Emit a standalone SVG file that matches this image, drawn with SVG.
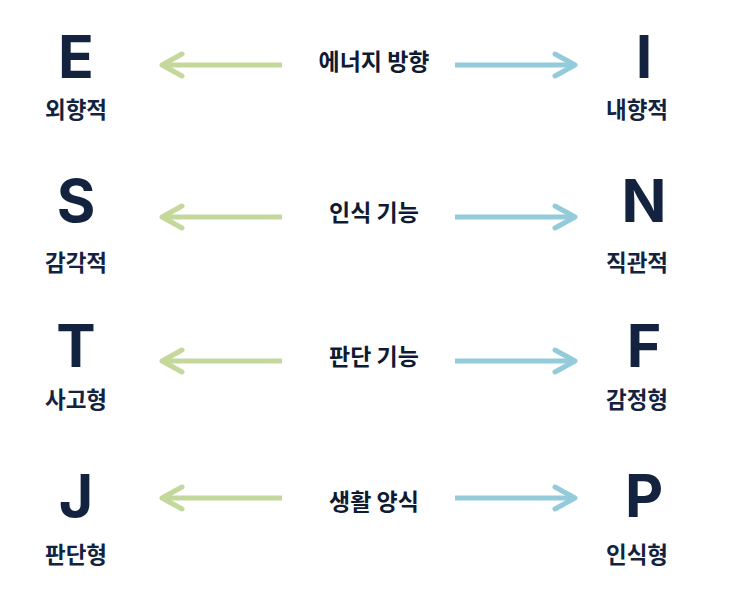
<svg xmlns="http://www.w3.org/2000/svg" width="750" height="592" viewBox="0 0 750 592">
<style>
.letter{font-family:Inter,"Liberation Sans","Noto Sans",sans-serif;font-weight:700;font-size:59px;fill:#13233f;text-anchor:middle}
.lbl{font-family:"Noto Sans CJK KR","Noto Sans",sans-serif;font-weight:700;font-size:22.5px;fill:#13233f;text-anchor:middle}
.mid{font-family:"Noto Sans CJK KR","Noto Sans",sans-serif;font-weight:700;font-size:23px;fill:#0f1a33;text-anchor:middle}
.g{fill:none;stroke:#c4d89b;stroke-width:5;stroke-linecap:round;stroke-linejoin:round}
.b{fill:none;stroke:#93cbdb;stroke-width:5;stroke-linecap:round;stroke-linejoin:round}
.shaft{stroke-linecap:butt}
</style>
<rect width="750" height="592" fill="#ffffff"/>
<g id="connectors">
  <path class="g shaft" d="M282,65 H163"/><path class="g" d="M182,54 L162,65 L182,76"/>
  <path class="b shaft" d="M455,65 H574"/><path class="b" d="M555,54 L575,65 L555,76"/>
  <path class="g shaft" d="M282,217 H163"/><path class="g" d="M182,206 L162,217 L182,228"/>
  <path class="b shaft" d="M455,217 H574"/><path class="b" d="M555,206 L575,217 L555,228"/>
  <path class="g shaft" d="M282,361 H163"/><path class="g" d="M182,350 L162,361 L182,372"/>
  <path class="b shaft" d="M455,361 H574"/><path class="b" d="M555,350 L575,361 L555,372"/>
  <path class="g shaft" d="M282,498 H163"/><path class="g" d="M182,487 L162,498 L182,509"/>
  <path class="b shaft" d="M455,498 H574"/><path class="b" d="M555,487 L575,498 L555,509"/>
</g>
<g id="node-E"><text class="letter" x="76" y="78">E</text><text class="lbl" x="76" y="118">외향적</text></g>
<g id="node-I"><text class="letter" x="644" y="78">I</text><text class="lbl" x="637" y="118">내향적</text></g>
<g id="axis-energy"><text class="mid" x="374" y="70">에너지 방향</text></g>
<g id="node-S"><text class="letter" x="76" y="222">S</text><text class="lbl" x="76" y="271">감각적</text></g>
<g id="node-N"><text class="letter" x="644" y="222">N</text><text class="lbl" x="637" y="271">직관적</text></g>
<g id="axis-perception"><text class="mid" x="374" y="221">인식 기능</text></g>
<g id="node-T"><text class="letter" x="76" y="367">T</text><text class="lbl" x="76" y="408">사고형</text></g>
<g id="node-F"><text class="letter" x="644" y="367">F</text><text class="lbl" x="637" y="408">감정형</text></g>
<g id="axis-judgement"><text class="mid" x="374" y="365">판단 기능</text></g>
<g id="node-J"><text class="letter" x="76" y="517">J</text><text class="lbl" x="76" y="563">판단형</text></g>
<g id="node-P"><text class="letter" x="644" y="517">P</text><text class="lbl" x="637" y="563">인식형</text></g>
<g id="axis-lifestyle"><text class="mid" x="374" y="510">생활 양식</text></g>
</svg>
